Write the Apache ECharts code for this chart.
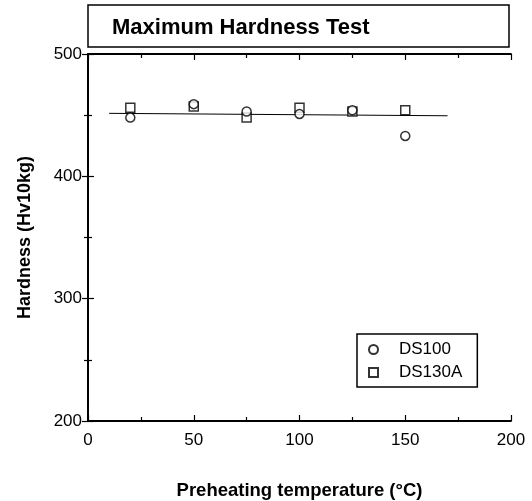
<!DOCTYPE html>
<html><head><meta charset="utf-8">
<script src="https://cdn.jsdelivr.net/npm/echarts@6/dist/echarts.min.js"></script>
<style>html,body{margin:0;padding:0;background:#fff}#c{width:532px;height:501px}</style>
</head><body><div id="c"></div>
<script>
var titleText = 'Maximum Hardness Test';
var xName = 'Preheating temperature (°C)';
var yName = 'Hardness (Hv10kg)';
var ds100 = [[20,448],[50,459],[75,453],[100,451],[125,454],[150,433]];
var ds130a = [[20,456],[50,457],[75,448],[100,456],[125,453],[150,454]];
var trendLine = [[10,451.5],[170,449.5]];
var F = 'Liberation Sans, Arial, sans-serif';
var chart = echarts.init(document.getElementById('c'));
function axisCommon(show){
  return {
    axisLine:{show:true,lineStyle:{color:'#000',width:1.8}},
    axisTick:{show:true,inside:true,length:6,lineStyle:{color:'#000',width:1.2}},
    minorTick:{show:true,splitNumber:2,length:4,lineStyle:{color:'#000',width:1.2}},
    splitLine:{show:false},
    axisLabel:{show:show,color:'#000',fontFamily:F,fontSize:17}
  };
}
var xb = Object.assign({type:'value',min:0,max:200,interval:50,position:'bottom',
  name:xName,nameLocation:'middle',nameGap:60,
  nameTextStyle:{fontFamily:F,fontSize:18.5,fontWeight:'bold',color:'#000'}}, axisCommon(true));
xb.axisLabel.margin=11;
var xt = Object.assign({type:'value',min:0,max:200,interval:50,position:'top'}, axisCommon(false));
var yl = Object.assign({type:'value',min:200,max:500,interval:100,position:'left',
  name:yName,nameLocation:'middle',nameGap:54,
  nameTextStyle:{fontFamily:F,fontSize:18,fontWeight:'bold',color:'#000'}}, axisCommon(true));
yl.axisLabel.margin=6;
var yr = Object.assign({type:'value',min:200,max:500,interval:100,position:'right'}, axisCommon(false));
chart.setOption({
  animation:false,
  grid:{left:88,right:21,top:54,bottom:80,containLabel:false,outerBoundsMode:'none'},
  xAxis:[xb,xt],
  yAxis:[yl,yr],
  legend:{
    orient:'vertical',left:357,top:334,
    data:['DS100','DS130A'],
    itemWidth:9,itemHeight:9,itemGap:6,
    padding:[7,15,6,11],
    borderColor:'#000',borderWidth:1.5,
    textStyle:{fontFamily:F,fontSize:17,lineHeight:14,color:'#000',padding:[0,0,0,16]}
  },
  graphic:[
    {type:'rect',shape:{x:88,y:5,width:421,height:42},style:{fill:'#fff',stroke:'#000',lineWidth:1.5}},
    {type:'text',left:112,top:17,style:{text:titleText,font:'bold 22px '+F,fill:'#000'}}
  ],
  series:[
    {type:'line',data:trendLine,symbol:'none',lineStyle:{color:'#000',width:1},silent:true,z:1},
    {name:'DS100',type:'scatter',data:ds100,symbol:'circle',symbolSize:9,
     itemStyle:{color:'#fff',borderColor:'#000',borderWidth:1.5},z:3},
    {name:'DS130A',type:'scatter',data:ds130a,symbol:'rect',symbolSize:9,
     itemStyle:{color:'#fff',borderColor:'#000',borderWidth:1.5},z:2}
  ]
});
</script></body></html>
